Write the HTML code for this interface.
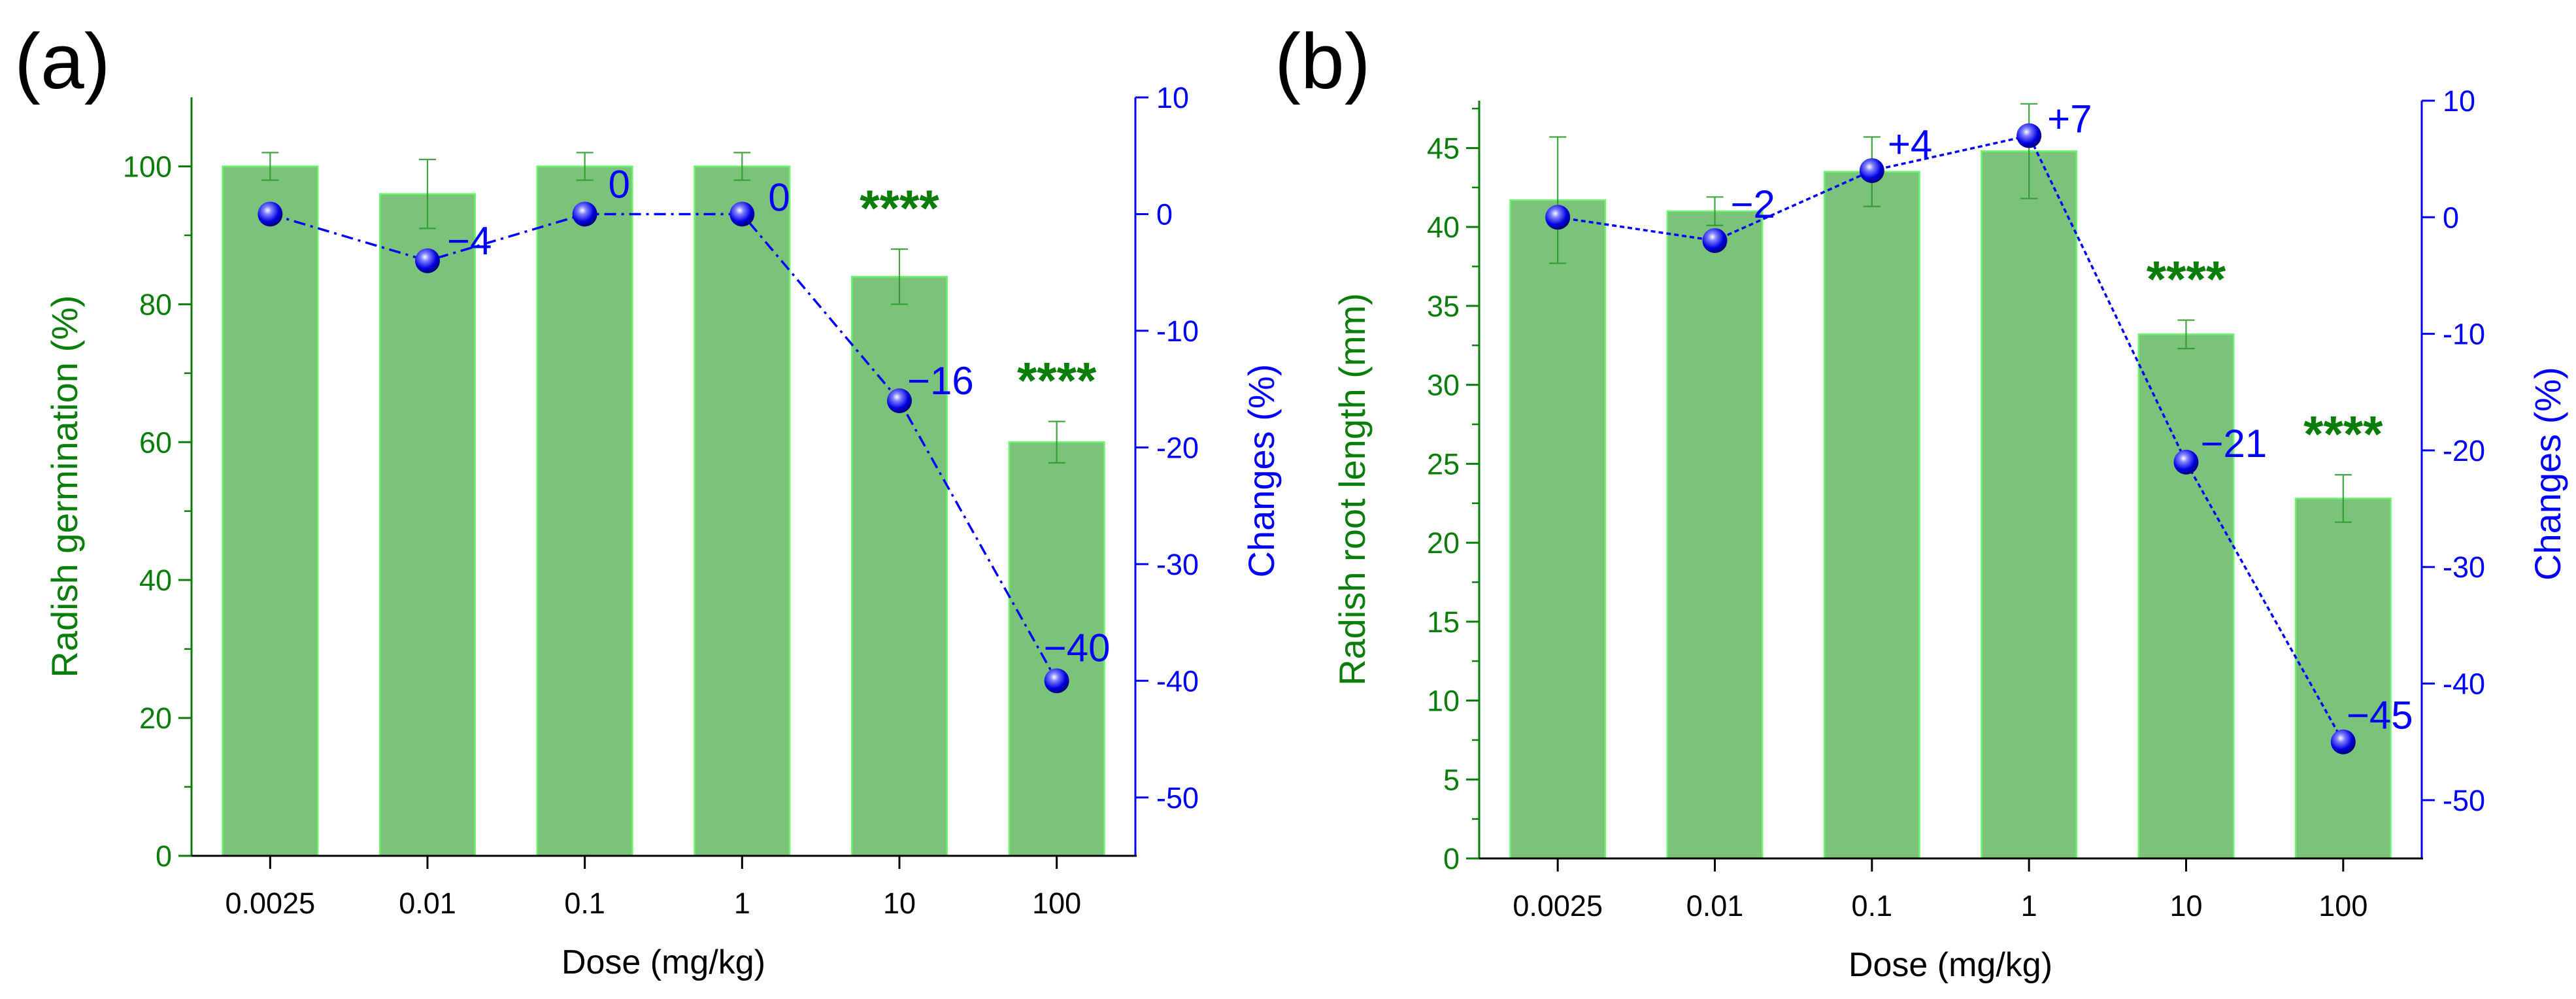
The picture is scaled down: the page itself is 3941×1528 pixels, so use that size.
<!DOCTYPE html>
<html><head><meta charset="utf-8"><style>
html,body{margin:0;padding:0;background:#fff}
svg{display:block;font-family:"Liberation Sans",Arial,sans-serif}
</style></head><body>
<svg id="fig" width="3941" height="1528" viewBox="0 0 3941 1528" xmlns="http://www.w3.org/2000/svg">
<defs>
<radialGradient id="ball" cx="0.4" cy="0.35" r="0.65">
<stop offset="0" stop-color="#ffffff"/><stop offset="0.25" stop-color="#8080ff"/><stop offset="0.7" stop-color="#0000e0"/><stop offset="1" stop-color="#00007a"/>
</radialGradient>
</defs>
</svg>
<script>
const categories = ["0.0025","0.01","0.1","1","10","100"];
const germValues = [100,96,100,100,84,60];
const germErrors = [2,5,2,2,4,3];
const germChanges = [0,-4,0,0,-16,-40];
const germChangeLabels = ["","\u22124","0","0","\u221216","\u221240"];
const germStars = ["","","","","****","****"];
const germTicks = [0,20,40,60,80,100];
const rootValues = [41.7,41.0,43.5,44.8,33.2,22.8];
const rootErrors = [4.0,0.9,2.2,3.0,0.9,1.5];
const rootChanges = [0,-2,4,7,-21,-45];
const rootChangeLabels = ["","\u22122","+4","+7","\u221221","\u221245"];
const rootStars = ["","","","","****","****"];
const rootTicks = [0,5,10,15,20,25,30,35,40,45];
const changeTicks = [10,0,-10,-20,-30,-40,-50];

const NS="http://www.w3.org/2000/svg";
const svg=document.getElementById('fig');
function mk(tag,attrs,parent){const e=document.createElementNS(NS,tag);for(const k in attrs)e.setAttribute(k,attrs[k]);(parent||svg).appendChild(e);return e;}
const GREEN="#0a7d0a", BLUE="#0000ff";

function panel(p){
  const g=mk('g',{});
  
  
  const L=p.x0,R=p.x1,T=p.top,B=p.bottom;
  const yL=v=>B-(v-p.lmin)/(p.lmax-p.lmin)*(B-T);
  const yR=v=>B-(v-p.rmin)/(p.rmax-p.rmin)*(B-T);
  const step=(R-L)/categories.length;
  const xC=i=>L+step*(i+0.5);
  const bw=step*0.605;
  p.values.forEach((v,i)=>{
    const r=mk('rect',{x:xC(i)-bw/2,y:yL(v),width:bw,height:B-yL(v),fill:'#7bc37b',stroke:'#6cf56c','stroke-width':2.5},g);
    
    
    const e=p.errors[i],x=xC(i);
    const eb=mk('path',{d:`M${x},${yL(v+e)}V${yL(v-e)}M${x-13},${yL(v+e)}h26M${x-13},${yL(v-e)}h26`,stroke:'#2e9a2e','stroke-width':2.2,fill:'none',opacity:0.9},g);
    
    
    if(p.stars[i]){
      const s=mk('text',{x:x,y:yL(v+e)-36,'text-anchor':'middle','font-size':78,'font-weight':'bold',fill:GREEN},g);
      s.textContent=p.stars[i];
      
      
    }
  });
  const ax=mk('path',{d:`M${L},${T}V${B}`,stroke:GREEN,'stroke-width':3,fill:'none'},g);
  
  const rx=mk('path',{d:`M${R},${T}V${B}`,stroke:BLUE,'stroke-width':3,fill:'none'},g);
  
  const bx=mk('path',{d:`M${L-2},${B}H${R+2}`,stroke:'#000','stroke-width':3,fill:'none'},g);
  
  p.lticks.forEach(v=>{
    mk('path',{d:`M${L},${yL(v)}h-20`,stroke:GREEN,'stroke-width':3},g);
    const t=mk('text',{x:L-30,y:yL(v)+16,'text-anchor':'end','font-size':45,fill:GREEN},g);
    t.textContent=v;
    
  });
  for(let v=p.lmin+p.minor;v<p.lmax;v+=p.minor){
    if(p.lticks.some(t=>Math.abs(t-v)<1e-6))continue;
    mk('path',{d:`M${L},${yL(v)}h-11`,stroke:GREEN,'stroke-width':2.5},g);
  }
  changeTicks.forEach(v=>{
    mk('path',{d:`M${R},${yR(v)}h20`,stroke:BLUE,'stroke-width':3},g);
    const t=mk('text',{x:R+32,y:yR(v)+16,'font-size':45,fill:BLUE},g);
    t.textContent=v;
    
  });
  categories.forEach((c,i)=>{
    mk('path',{d:`M${xC(i)},${B}v20`,stroke:'#000','stroke-width':3},g);
    const t=mk('text',{x:xC(i),y:B+88,'text-anchor':'middle','font-size':45,fill:'#000'},g);
    t.textContent=c;
    
  });
  const xt=mk('text',{x:(L+R)/2,y:B+180,'text-anchor':'middle','font-size':52,fill:'#000'},g);
  xt.textContent='Dose (mg/kg)';
  const lt=mk('text',{x:0,y:0,'text-anchor':'middle','font-size':56,fill:GREEN,transform:`translate(${L-175},${(T+B)/2+15}) rotate(-90)`},g);
  lt.textContent=p.ltitle;
  const rt=mk('text',{x:0,y:0,'text-anchor':'middle','font-size':56,fill:BLUE,transform:`translate(${R+212},${yR(-22)}) rotate(-90)`},g);
  rt.textContent='Changes (%)';
  const pl=mk('text',{x:p.labelX,y:135,'font-size':120,fill:'#000'},g);
  pl.textContent=p.label;
  const d=p.changes.map((v,i)=>(i?'L':'M')+xC(i)+','+yR(v)).join('');
  const ln=mk('path',{d:d,stroke:BLUE,'stroke-width':3.5,fill:'none','stroke-dasharray':p.dash},g);
  
  p.changes.forEach((v,i)=>{
    const c=mk('circle',{cx:xC(i),cy:yR(v),r:19,fill:'url(#ball)'},g);
    
    if(p.clabels[i]){
      const t=mk('text',{x:xC(i)+p.off[i][0],y:yR(v)+p.off[i][1],'font-size':60,fill:BLUE},g);
      t.textContent=p.clabels[i];
    }
  });
}
panel({name:'panel-a-germination',x0:293,x1:1737,top:149,bottom:1309,lmin:0,lmax:110,rmin:-55,rmax:10,minor:10,
  values:germValues,errors:germErrors,changes:germChanges,clabels:germChangeLabels,stars:germStars,lticks:germTicks,
  ltitle:'Radish germination (%)',label:'(a)',labelX:22,dash:'18,8,4,8',
  off:[[0,0],[30,-10],[36,-25],[40,-5],[12,-10],[-20,-30]]});
panel({name:'panel-b-root-length',x0:2263,x1:3705,top:154,bottom:1313,lmin:0,lmax:48,rmin:-55,rmax:10,minor:2.5,
  values:rootValues,errors:rootErrors,changes:rootChanges,clabels:rootChangeLabels,stars:rootStars,lticks:rootTicks,
  ltitle:'Radish root length (mm)',label:'(b)',labelX:1950,dash:'7,5',
  off:[[0,0],[24,-35],[24,-20],[28,-5],[22,-8],[5,-20]]});
</script>
</body></html>
